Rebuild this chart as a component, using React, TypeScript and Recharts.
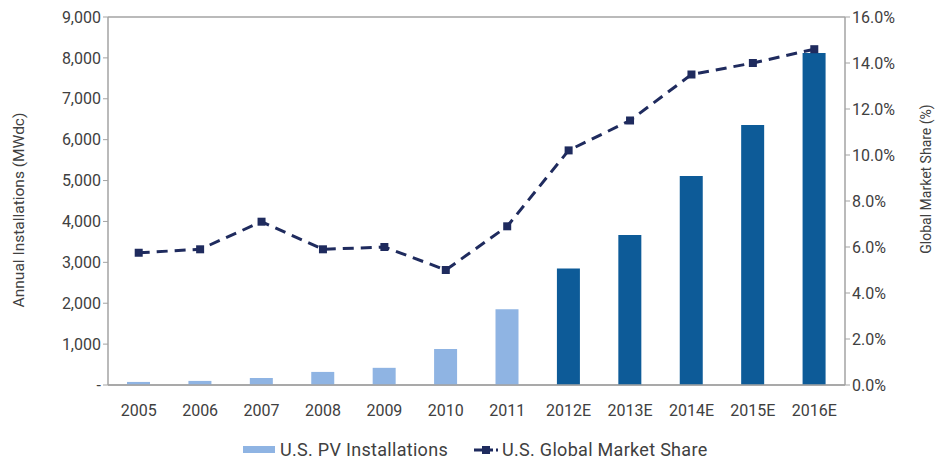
import { ComposedChart, Bar, Line, XAxis, YAxis, CartesianGrid, Cell } from "recharts";

const years = ["2005", "2006", "2007", "2008", "2009", "2010", "2011", "2012E", "2013E", "2014E", "2015E", "2016E"];
const installations = [75, 100, 170, 320, 420, 880, 1850, 2850, 3670, 5110, 6360, 8120];
const marketShare = [5.75, 5.9, 7.1, 5.9, 6.0, 5.0, 6.9, 10.2, 11.5, 13.5, 14.0, 14.6];
const estimated = [false, false, false, false, false, false, false, true, true, true, true, true];
const leftTicks = [0, 1000, 2000, 3000, 4000, 5000, 6000, 7000, 8000, 9000];
const rightTicks = [0, 2, 4, 6, 8, 10, 12, 14, 16];

const data = years.map((year, i) => ({ year, installs: installations[i], share: marketShare[i] }));

const LIGHT = "#8fb4e3";
const DARK = "#0d5b98";
const NAVY = "#1f2b5e";
const GRID = "#a3a3a3";
const TEXT = "#404040";
const FONT = "'Roboto', sans-serif";

const SquareDot = (props: any) => {
  const { cx, cy } = props;
  if (cx == null || cy == null) return null;
  return <rect x={cx - 4} y={cy - 4} width={8} height={8} fill={NAVY} />;
};

export default function App() {
  return (
    <div style={{ position: "absolute", left: 0, top: 0, width: 937, height: 463, background: "#fff" }}>
      <ComposedChart width={937} height={463} data={data} margin={{ top: 17, right: 0, bottom: 48, left: 0 }} barSize={23}>
        <CartesianGrid vertical={false} stroke={GRID} strokeWidth={1.5} />
        <XAxis
          dataKey="year"
          height={30}
          tickLine={false}
          axisLine={{ stroke: GRID, strokeWidth: 1.5 }}
          tick={{ fill: TEXT, fontSize: 16, fontFamily: FONT }}
          tickMargin={14}
        />
        <YAxis
          yAxisId="left"
          width={108}
          domain={[0, 9000]}
          ticks={leftTicks}
          interval={0}
          tickSize={5}
          tickLine={{ stroke: GRID }}
          axisLine={{ stroke: GRID, strokeWidth: 1.5 }}
          tick={{ fill: TEXT, fontSize: 16, fontFamily: FONT }}
          tickFormatter={(v: number) => (v === 0 ? "-" : v.toLocaleString("en-US"))}
          label={{ value: "Annual Installations (MWdc)", angle: -90, position: "center", dx: -36, dy: 9, fill: TEXT, fontSize: 15.5, fontFamily: FONT }}
        />
        <YAxis
          yAxisId="right"
          orientation="right"
          width={92}
          domain={[0, 16]}
          ticks={rightTicks}
          interval={0}
          tickSize={5}
          tickLine={{ stroke: GRID }}
          axisLine={{ stroke: GRID, strokeWidth: 1.5 }}
          tick={{ fill: TEXT, fontSize: 16, fontFamily: FONT }}
          tickFormatter={(v: number) => v.toFixed(1) + "%"}
          label={{ value: "Global Market Share (%)", angle: -90, position: "center", dx: 35, dy: -22, fill: TEXT, fontSize: 14, fontFamily: FONT }}
        />
        <Bar yAxisId="left" dataKey="installs" isAnimationActive={false}>
          {data.map((_, i) => (
            <Cell key={i} fill={estimated[i] ? DARK : LIGHT} />
          ))}
        </Bar>
        <Line
          yAxisId="right"
          dataKey="share"
          stroke={NAVY}
          strokeWidth={3}
          strokeDasharray="11 7"
          dot={<SquareDot />}
          activeDot={false}
          isAnimationActive={false}
        />
      </ComposedChart>
      <div style={{ position: "absolute", left: 243, top: 439, display: "flex", alignItems: "center", gap: "26px", fontFamily: FONT, fontSize: "18px", letterSpacing: "0.3px", color: TEXT }}>
        <div style={{ display: "flex", alignItems: "center", gap: "5px" }}>
          <div style={{ width: "32px", height: "7px", background: LIGHT }} />
          <span>U.S. PV Installations</span>
        </div>
        <div style={{ display: "flex", alignItems: "center", gap: "4px" }}>
          <svg width={24} height={10}>
            <line x1={0} y1={5} x2={24} y2={5} stroke={NAVY} strokeWidth={3} strokeDasharray="8 3" />
            <rect x={8} y={1} width={8} height={8} fill={NAVY} />
          </svg>
          <span>U.S. Global Market Share</span>
        </div>
      </div>
    </div>
  );
}
